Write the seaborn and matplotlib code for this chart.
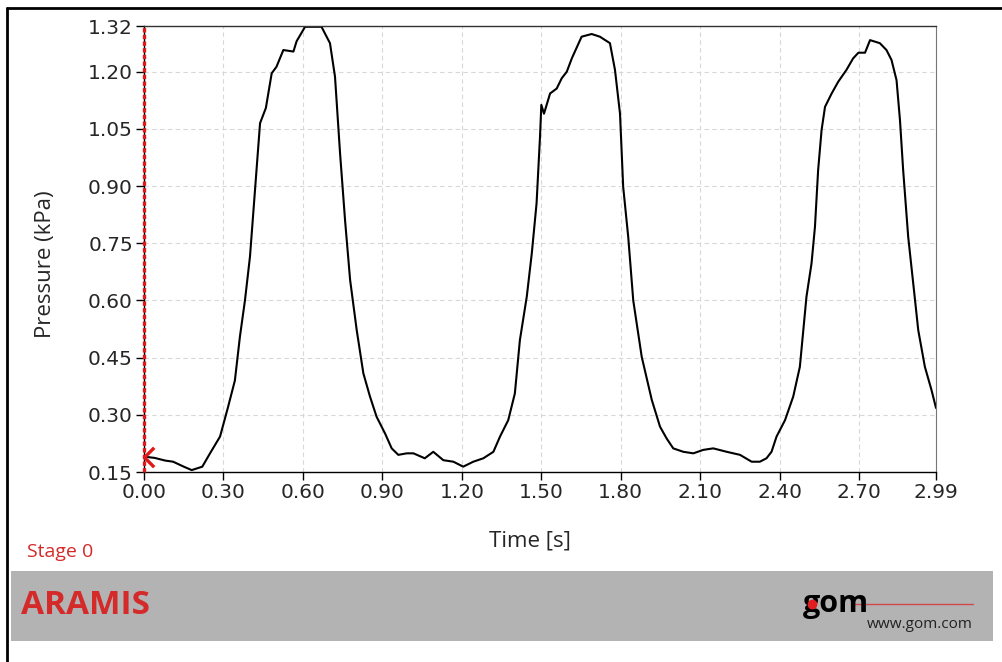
import numpy as np
import pandas as pd
import matplotlib.pyplot as plt
import seaborn as sns
from matplotlib.path import Path
from matplotlib.patches import Rectangle
from matplotlib.lines import Line2D

# Curva de pressão
time_s = [0.004, 0.04, 0.08, 0.11, 0.15, 0.18, 0.22, 0.25, 0.287, 0.317, 0.343, 0.362, 0.381,
          0.40, 0.419, 0.438, 0.46, 0.482, 0.50, 0.526, 0.564, 0.576, 0.608, 0.67, 0.702, 0.721,
          0.74, 0.759, 0.778, 0.803, 0.828, 0.853, 0.878, 0.91, 0.935, 0.96, 0.992, 1.017, 1.06,
          1.092, 1.13, 1.168, 1.205, 1.243, 1.281, 1.319, 1.344, 1.375, 1.40, 1.419, 1.445, 1.464,
          1.482, 1.495, 1.50, 1.51, 1.533, 1.558, 1.577, 1.596, 1.615, 1.652, 1.69, 1.721, 1.759,
          1.778, 1.797, 1.809, 1.828, 1.847, 1.879, 1.917, 1.948, 1.973, 1.998, 2.036, 2.074,
          2.111, 2.149, 2.20, 2.25, 2.294, 2.325, 2.35, 2.369, 2.388, 2.42, 2.451, 2.476, 2.501,
          2.52, 2.533, 2.545, 2.558, 2.571, 2.596, 2.621, 2.652, 2.677, 2.697, 2.722, 2.741,
          2.778, 2.803, 2.822, 2.841, 2.854, 2.866, 2.885, 2.904, 2.923, 2.948, 2.973, 2.99]
pressure_kpa = [0.19, 0.187, 0.18, 0.177, 0.164, 0.155, 0.164, 0.20, 0.243, 0.32, 0.39, 0.505, 0.60,
                0.715, 0.89, 1.065, 1.105, 1.196, 1.213, 1.257, 1.253, 1.28, 1.318, 1.318, 1.275, 1.187,
                0.987, 0.81, 0.654, 0.522, 0.409, 0.348, 0.295, 0.251, 0.212, 0.195, 0.199, 0.199, 0.186,
                0.203, 0.181, 0.177, 0.164, 0.177, 0.186, 0.203, 0.243, 0.286, 0.356, 0.496, 0.61, 0.724,
                0.855, 1.03, 1.113, 1.09, 1.143, 1.156, 1.183, 1.20, 1.235, 1.292, 1.299, 1.292, 1.275,
                1.205, 1.09, 0.898, 0.767, 0.60, 0.452, 0.339, 0.269, 0.238, 0.212, 0.203, 0.199,
                0.208, 0.212, 0.203, 0.195, 0.177, 0.177, 0.186, 0.203, 0.243, 0.286, 0.348, 0.426, 0.61,
                0.697, 0.793, 0.942, 1.047, 1.108, 1.143, 1.174, 1.205, 1.235, 1.25, 1.25, 1.283,
                1.275, 1.257, 1.231, 1.178, 1.073, 0.942, 0.767, 0.645, 0.522, 0.426, 0.365, 0.318]

x_ticks = [0.00, 0.30, 0.60, 0.90, 1.20, 1.50, 1.80, 2.10, 2.40, 2.70, 2.99]
y_ticks = [0.15, 0.30, 0.45, 0.60, 0.75, 0.90, 1.05, 1.20, 1.32]
stage_time = 0.0
stage_value = 0.19

df = pd.DataFrame({'t': time_s, 'p': pressure_kpa})

sns.set_style("white")
plt.rcParams['font.family'] = ['DejaVu Sans']

fig = plt.figure(figsize=(10.03, 6.62), dpi=100)
ax = fig.add_axes([0.1436, 0.287, 0.7896, 0.6737])

sns.lineplot(data=df, x='t', y='p', ax=ax, color='black', linewidth=1.5)

ax.set_xlim(0, 2.99)
ax.set_ylim(0.15, 1.32)
ax.set_xticks(x_ticks)
ax.set_yticks(y_ticks)
ax.set_xticklabels([f"{v:.2f}" for v in x_ticks])
ax.set_yticklabels([f"{v:.2f}" for v in y_ticks])
ax.grid(True, color='#d8d8d8', linestyle=(0, (4, 3)), linewidth=0.8)
ax.tick_params(axis='both', direction='out', length=6, width=1, labelsize=14.5, color='black', pad=2,
               left=True, bottom=True)
for s in ['left', 'bottom']:
    ax.spines[s].set_color('black')
    ax.spines[s].set_linewidth(1.0)
ax.spines['top'].set_color('#333333')
ax.spines['right'].set_color('#777777')
ax.spines['top'].set_linewidth(1.0)
ax.spines['right'].set_linewidth(0.8)

ax.set_xlabel('Time [s]', fontsize=16, family='Open Sans')
ax.set_ylabel('Pressure (kPa)', fontsize=16, family='Open Sans')
ax.xaxis.set_label_coords(0.487, -0.132)
ax.yaxis.set_label_coords(-0.111, 0.465)

# linha do estágio
ax.axvline(stage_time, color='#e01818', linestyle=(0, (1.3, 0.7)), linewidth=2.4, zorder=5,
           clip_on=False)
chevron = Path([(1, 1), (0, 0), (1, -1)], [Path.MOVETO, Path.LINETO, Path.LINETO])
ax.plot([stage_time], [stage_value], marker=chevron, markersize=14, color='#e01818',
        markerfacecolor='none', markeredgewidth=2.4, clip_on=False, zorder=6)

# rodapé
fig.text(0.027, 0.158, 'Stage 0', color='#d42a2a', fontsize=14, family='Open Sans')
fig.patches.append(Rectangle((0.011, 0.0317), 0.979, 0.1058, transform=fig.transFigure,
                             facecolor='#b3b3b3', edgecolor='none', zorder=0))
fig.text(0.021, 0.085, 'ARAMIS', color='#d42a2a', fontsize=24, fontweight='bold',
         family='Open Sans', va='center')
fig.lines.append(Line2D([0.848, 0.970], [0.0876, 0.0876], transform=fig.transFigure,
                        color='#d04848', linewidth=1.0))
fig.text(0.800, 0.088, 'gom', color='black', fontsize=22, fontweight='bold',
         family='Open Sans', va='center', zorder=4)
fig.lines.append(Line2D([0.8095], [0.087], transform=fig.transFigure, marker='o',
                        markersize=6, color='#e02020', linestyle='none', zorder=6))
fig.text(0.970, 0.045, 'www.gom.com', color='#222222', fontsize=11, family='Open Sans',
         ha='right', va='bottom')

# moldura externa
fig.lines.append(Line2D([0.007, 0.007], [0.0, 0.988], transform=fig.transFigure,
                        color='black', linewidth=2.0))
fig.lines.append(Line2D([0.007, 1.0], [0.988, 0.988], transform=fig.transFigure,
                        color='black', linewidth=2.0))

fig.savefig('out.png', dpi=100)
